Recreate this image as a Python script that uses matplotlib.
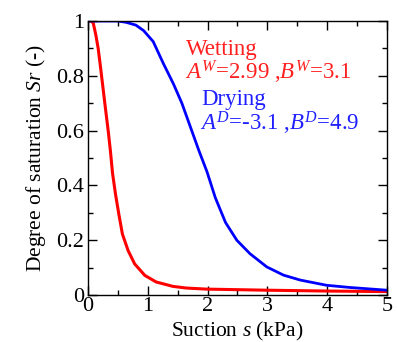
import matplotlib
matplotlib.use("Agg")
import matplotlib.pyplot as plt
from matplotlib.ticker import MultipleLocator, FormatStrFormatter

plt.rcParams['font.family'] = ['Liberation Serif', 'DejaVu Serif']
plt.rcParams['mathtext.fontset'] = 'custom'
plt.rcParams['mathtext.rm'] = 'Liberation Serif'
plt.rcParams['mathtext.it'] = 'Liberation Serif:italic'

# Wetting curve (red)
wet_s = [0.0, 0.05, 0.087, 0.13, 0.17, 0.21, 0.25, 0.29, 0.34, 0.375, 0.41, 0.46, 0.515,
         0.575, 0.67, 0.78, 0.95, 1.14, 1.42, 1.64, 1.98, 3.0, 4.0, 5.0]
wet_sr = [1.0, 1.0, 0.993, 0.95, 0.90, 0.83, 0.757, 0.684, 0.595, 0.525, 0.445, 0.368, 0.296,
          0.223, 0.163, 0.114, 0.072, 0.048, 0.032, 0.026, 0.022, 0.018, 0.015, 0.013]

# Drying curve (blue)
dry_s = [0.0, 0.5, 0.64, 0.8, 0.93, 1.09, 1.26, 1.43, 1.57, 1.71, 1.85, 1.99, 2.13, 2.30,
         2.49, 2.71, 2.99, 3.27, 3.55, 3.99, 4.38, 5.0]
dry_sr = [1.0, 1.0, 0.995, 0.985, 0.965, 0.925, 0.845, 0.77, 0.70, 0.615, 0.53, 0.45, 0.355,
          0.265, 0.20, 0.151, 0.103, 0.073, 0.055, 0.036, 0.028, 0.018]

x_ticks = [0, 1, 2, 3, 4, 5]
y_ticks = [0, 0.2, 0.4, 0.6, 0.8, 1]

fig = plt.figure(figsize=(3.97, 3.42), dpi=100)
ax = fig.add_axes([0.2217, 0.137, 0.753, 0.8016])

ax.plot(wet_s, wet_sr, color='#ff0000', lw=2.2, solid_joinstyle='round')
ax.plot(dry_s, dry_sr, color='#0000ff', lw=2.0, solid_joinstyle='round')

ax.set_xlim(0, 5)
ax.set_ylim(0, 1)
ax.set_xticks(x_ticks)
ax.set_yticks(y_ticks)
ax.xaxis.set_minor_locator(MultipleLocator(0.5))
ax.yaxis.set_minor_locator(MultipleLocator(0.1))
ax.yaxis.set_major_formatter(FormatStrFormatter('%g'))
ax.tick_params(which='both', direction='in', top=True, right=True, width=1.0, labelsize=16)
ax.tick_params(axis='x', which='major', pad=1.5)
ax.tick_params(axis='y', which='major', pad=3)
ax.tick_params(which='major', length=6.5)
ax.tick_params(which='minor', length=3.5)
for sp in ax.spines.values():
    sp.set_linewidth(1.0)

ax.set_xlabel(r'Suction $\mathit{s}$ (kPa)', fontsize=15.5, labelpad=2.5)
ax.set_ylabel(r'Degree of saturation $\mathit{Sr}$ (-)', fontsize=15.5, labelpad=6)

ax.text(1.64, 0.877, 'Wetting', color='#ff2020', fontsize=16.5)
ax.text(1.62, 0.786, r'$\mathit{A}^{\mathit{W}}$=2.99 ,$\mathit{B}^{\mathit{W}}$=3.1', color='#ff2020', fontsize=16.5)
ax.text(1.9, 0.695, 'Drying', color='#2020ff', fontsize=16.5)
ax.text(1.87, 0.600, r'$\mathit{A}^{\mathit{D}}$=-3.1 ,$\mathit{B}^{\mathit{D}}$=4.9', color='#2020ff', fontsize=16.5)

fig.savefig('out.png', dpi=100)
